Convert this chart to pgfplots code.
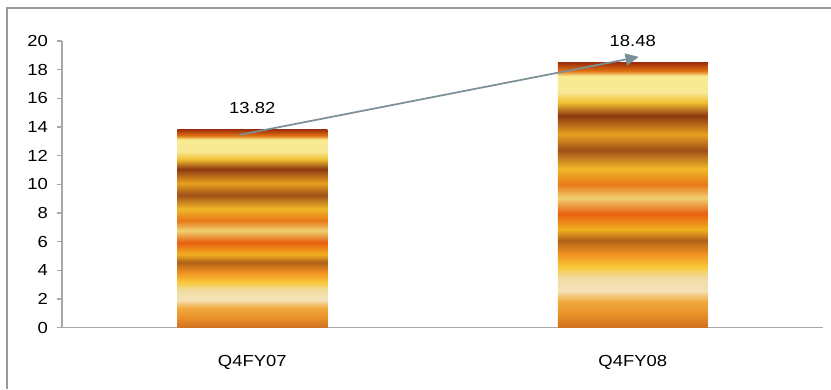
\documentclass[border=0pt]{standalone}
\usepackage{fontspec}
\setmainfont{Liberation Sans}[FakeStretch=1.15]
\usepackage{pgfplots}
\pgfplotsset{compat=1.18}
\usetikzlibrary{arrows.meta}

\definecolor{framegray}{HTML}{9A9A9A}
\definecolor{axisgray}{HTML}{A8A8A8}
\definecolor{arrowgray}{HTML}{7A9096}

% banded gold/orange fill used for both bars; the path is fitted to 25bp..75bp
\pgfdeclareverticalshading{goldbands}{100bp}{%
  color(0bp)=(rgb,255:red,208;green,112;blue,32);
  color(25bp)=(rgb,255:red,208;green,112;blue,32);
  color(27.5bp)=(rgb,255:red,232;green,144;blue,40);
  color(30bp)=(rgb,255:red,240;green,170;blue,60);
  color(32bp)=(rgb,255:red,245;green,226;blue,185);
  color(34.5bp)=(rgb,255:red,240;green,220;blue,160);
  color(36.5bp)=(rgb,255:red,248;green,200;blue,56);
  color(39bp)=(rgb,255:red,240;green,144;blue,32);
  color(41.5bp)=(rgb,255:red,176;green,96;blue,24);
  color(43.5bp)=(rgb,255:red,240;green,176;blue,32);
  color(46.5bp)=(rgb,255:red,232;green,96;blue,16);
  color(49.5bp)=(rgb,255:red,240;green,208;blue,112);
  color(52bp)=(rgb,255:red,232;green,120;blue,24);
  color(55bp)=(rgb,255:red,240;green,184;blue,40);
  color(58.5bp)=(rgb,255:red,160;green,80;blue,24);
  color(61.5bp)=(rgb,255:red,232;green,160;blue,32);
  color(65bp)=(rgb,255:red,140;green,56;blue,16);
  color(67.5bp)=(rgb,255:red,240;green,192;blue,48);
  color(69.5bp)=(rgb,255:red,248;green,232;blue,150);
  color(72.5bp)=(rgb,255:red,248;green,236;blue,144);
  color(73.5bp)=(rgb,255:red,224;green,112;blue,16);
  color(75bp)=(rgb,255:red,160;green,48;blue,12);
  color(100bp)=(rgb,255:red,160;green,48;blue,12)}

\begin{document}
\begin{tikzpicture}[x=0.75pt,y=0.75pt]
  \useasboundingbox (0,0) rectangle (831,389);
  % chart area border (top and left edges)
  \draw[framegray, line width=1.1pt] (7,0) -- (7,381) -- (831,381);
  \begin{axis}[
    at={(46.5pt,46pt)}, anchor=south west,
    scale only axis,
    width=570.75pt, height=215pt,
    xmin=-0.5, xmax=1.5,
    ymin=0, ymax=20,
    ytick={0,2,...,20},
    xtick={0,1},
    xticklabels={Q4FY07,Q4FY08},
    major x tick style={draw=none},
    extra x ticks={-0.5,0.5,1.5},
    extra x tick labels={},
    extra x tick style={major x tick style={axisgray, line width=0.8pt}},
    major tick length=4pt, tick align=outside,
    axis x line*=bottom,
    axis y line*=left,
    axis line style={axisgray, line width=0.8pt},
    tick style={axisgray, line width=0.8pt},
    tick label style={font=\fontsize{12}{14}\selectfont, text=black},
    /pgf/number format/assume math mode=true,
    yticklabel style={xshift=-3pt},
    xticklabel style={yshift=-13pt},
    ybar, bar width=112.5pt, bar shift=0pt,
    nodes near coords,
    nodes near coords style={font=\fontsize{12}{14}\selectfont, text=black,
      /pgf/number format/fixed, /pgf/number format/fixed zerofill,
      /pgf/number format/precision=2},
    every node near coord/.append style={anchor=south, inner sep=0pt, yshift=12pt},
    clip=false,
  ]
    % one plot per quarter so each bar gets its own full shading
    \addplot[draw=none, shade, shading=goldbands] coordinates {(0,13.82)};
    \addplot[draw=none, shade, shading=goldbands] coordinates {(1,18.48)};
    % growth arrow between the two quarters
    \draw[arrowgray, line width=1.3pt,
      -{Triangle[length=10pt, width=9pt]}]
      (axis cs:-0.034,13.45) -- (axis cs:1.016,18.89);
  \end{axis}
\end{tikzpicture}
\end{document}
